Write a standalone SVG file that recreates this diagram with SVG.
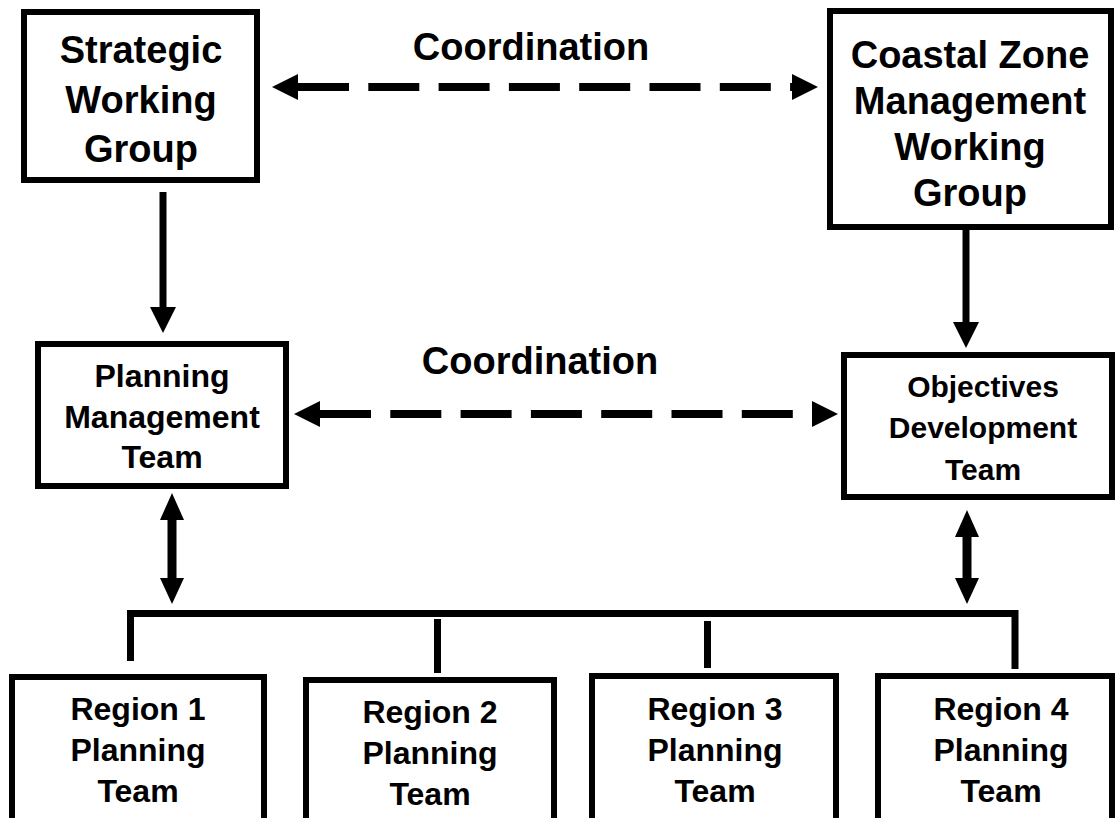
<svg xmlns="http://www.w3.org/2000/svg" width="1115" height="818" viewBox="0 0 1115 818">
<style>
.box{fill:#fff;stroke:#000;stroke-width:6}
.t{font-family:"Liberation Sans",Arial,sans-serif;font-weight:bold;fill:#000;text-anchor:middle}
.l{stroke:#000;fill:none}
.h{fill:#000;stroke:none}
</style>
<rect width="1115" height="818" fill="#fff"/>
<g id="strategic">
<rect class="box" x="24" y="12" width="233" height="168"/>
<text class="t" font-size="38"><tspan x="141" y="63">Strategic</tspan><tspan x="141" y="113">Working</tspan><tspan x="141" y="162">Group</tspan></text>
</g>
<g id="coastal">
<rect class="box" x="830" y="11" width="281" height="216"/>
<text class="t" font-size="38"><tspan x="970" y="68">Coastal Zone</tspan><tspan x="970" y="114">Management</tspan><tspan x="970" y="160">Working</tspan><tspan x="970" y="206">Group</tspan></text>
</g>
<g id="planning-mgmt">
<rect class="box" x="38" y="344" width="248" height="142"/>
<text class="t" font-size="32"><tspan x="162" y="387">Planning</tspan><tspan x="162" y="428">Management</tspan><tspan x="162" y="468">Team</tspan></text>
</g>
<g id="objectives">
<rect class="box" x="844" y="355" width="268" height="142"/>
<text class="t" font-size="30"><tspan x="983" y="397">Objectives</tspan><tspan x="983" y="438">Development</tspan><tspan x="983" y="480">Team</tspan></text>
</g>
<g id="region1">
<rect class="box" x="12" y="677" width="252" height="200"/>
<text class="t" font-size="32"><tspan x="138" y="720">Region 1</tspan><tspan x="138" y="761">Planning</tspan><tspan x="138" y="802">Team</tspan></text>
</g>
<g id="region2">
<rect class="box" x="306" y="680" width="248" height="200"/>
<text class="t" font-size="32"><tspan x="430" y="723">Region 2</tspan><tspan x="430" y="764">Planning</tspan><tspan x="430" y="805">Team</tspan></text>
</g>
<g id="region3">
<rect class="box" x="592" y="676" width="244" height="200"/>
<text class="t" font-size="32"><tspan x="715" y="720">Region 3</tspan><tspan x="715" y="761">Planning</tspan><tspan x="715" y="802">Team</tspan></text>
</g>
<g id="region4">
<rect class="box" x="878" y="676" width="234" height="200"/>
<text class="t" font-size="32"><tspan x="1001" y="720">Region 4</tspan><tspan x="1001" y="761">Planning</tspan><tspan x="1001" y="802">Team</tspan></text>
</g>
<g id="labels">
<text class="t" font-size="38" x="531" y="60">Coordination</text>
<text class="t" font-size="38" x="540" y="374">Coordination</text>
</g>
<g id="connectors">
<line class="l" x1="298" y1="87" x2="792" y2="87" stroke-width="8" stroke-dasharray="51 19.3"/>
<polygon class="h" points="272,87 298,74 298,100"/>
<polygon class="h" points="818,87 792,74 792,100"/>
<line class="l" x1="320" y1="414" x2="812" y2="414" stroke-width="8" stroke-dasharray="51 19.3"/>
<polygon class="h" points="294,414 320,401 320,427"/>
<polygon class="h" points="838,414 812,401 812,427"/>
<line class="l" x1="163" y1="192" x2="163" y2="308" stroke-width="7"/>
<polygon class="h" points="150,307 176,307 163,333"/>
<line class="l" x1="966" y1="230" x2="966" y2="323" stroke-width="7"/>
<polygon class="h" points="953,322 979,322 966,348"/>
<line class="l" x1="172" y1="519" x2="172" y2="579" stroke-width="9"/>
<polygon class="h" points="172,493 160,520 184,520"/>
<polygon class="h" points="160,578 184,578 172,604"/>
<line class="l" x1="967" y1="536" x2="967" y2="579" stroke-width="9"/>
<polygon class="h" points="967,510 955,537 979,537"/>
<polygon class="h" points="955,578 979,578 967,604"/>
<path class="l" d="M130.5,661 V613.5 H1015 V669" stroke-width="7" stroke-linejoin="miter"/>
<line class="l" x1="437.5" y1="619" x2="437.5" y2="673" stroke-width="7"/>
<line class="l" x1="707.5" y1="621" x2="707.5" y2="668" stroke-width="7"/>
</g>
</svg>
